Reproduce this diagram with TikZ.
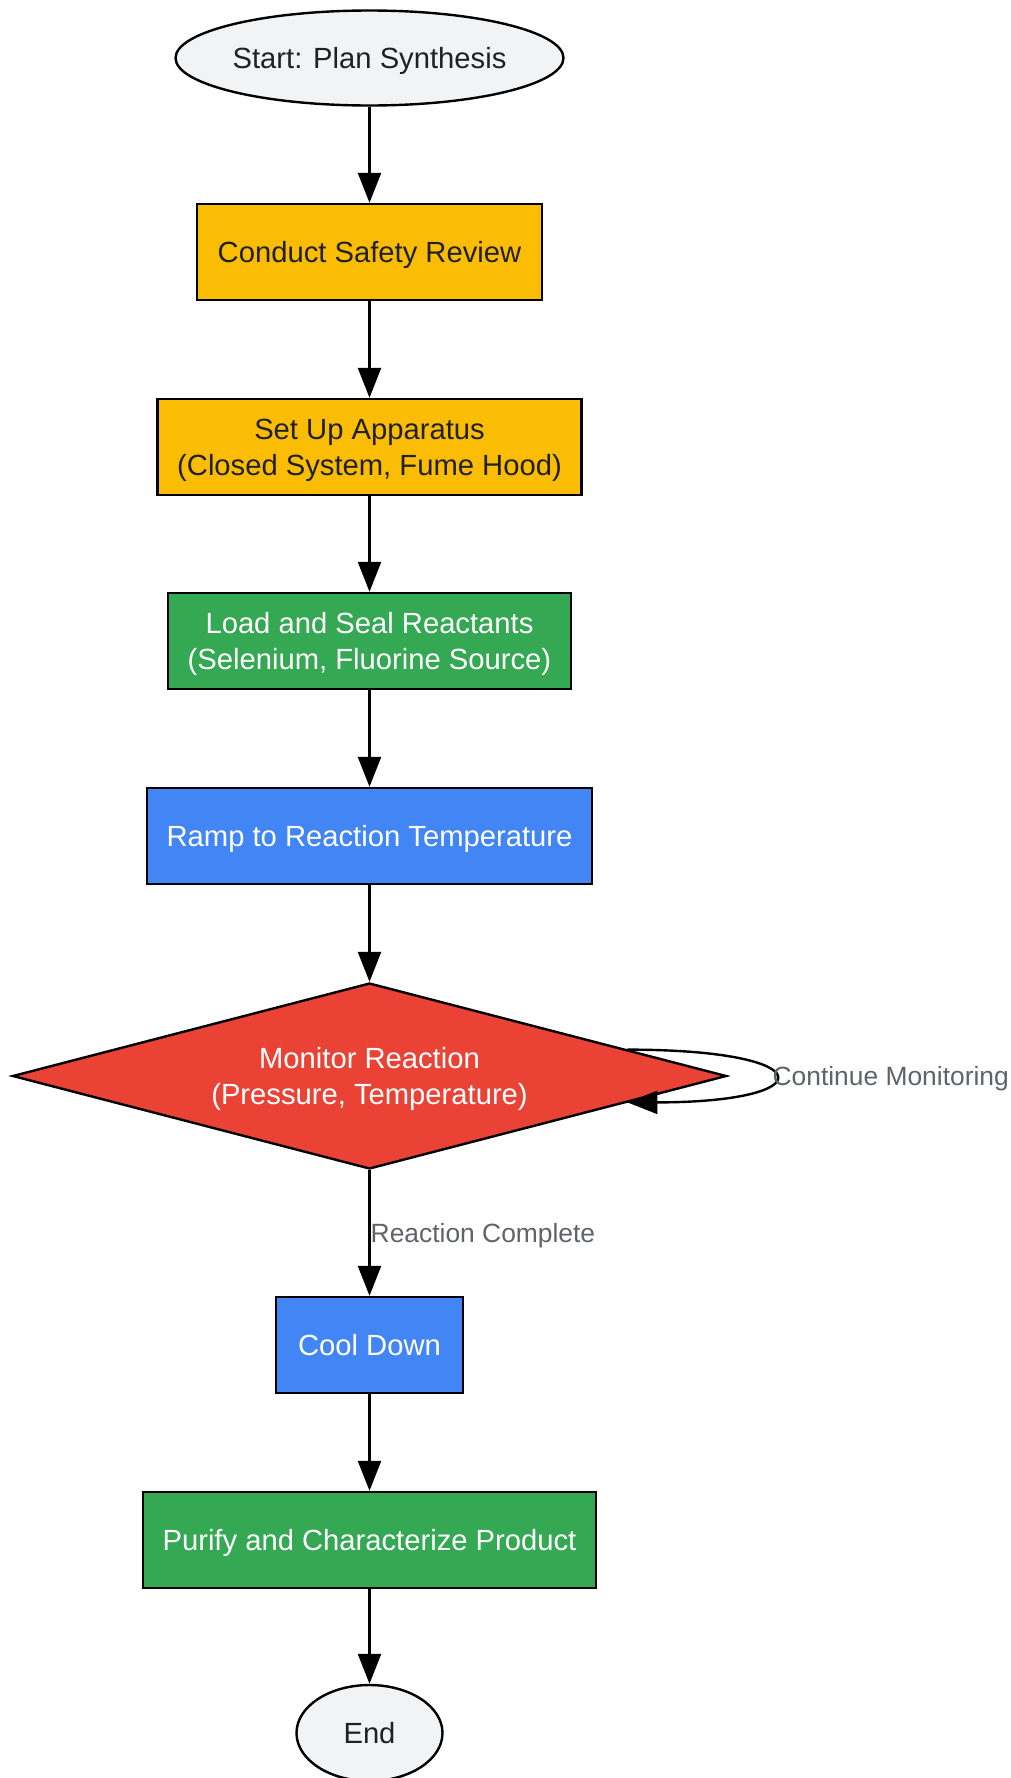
\documentclass[tikz,border=0pt]{standalone}
\usepackage{fontspec}
\setmainfont{Liberation Sans}
\usetikzlibrary{shapes.geometric,arrows.meta,calc}
\definecolor{termfill}{HTML}{F1F3F5}
\definecolor{darktext}{HTML}{202124}
\definecolor{prepfill}{HTML}{FBBC04}
\definecolor{loadfill}{HTML}{34A853}
\definecolor{heatfill}{HTML}{4285F4}
\definecolor{checkfill}{HTML}{EA4335}
\definecolor{labelgray}{HTML}{5F6368}

\begin{document}
\begin{tikzpicture}[x=0.5pt,y=-0.5pt,
		every node/.style={font=\fontsize{14.6}{18}\selectfont,text depth=0pt},
		terminal/.style={ellipse,draw,line width=1.2pt,fill=termfill,text=darktext,inner sep=0pt,minimum height=47.5pt},
		stepbox/.style={rectangle,draw,line width=1.2pt,inner sep=0pt,minimum height=48pt,align=center},
		prep/.style={stepbox,fill=prepfill,text=darktext},
		loadstep/.style={stepbox,fill=loadfill,text=white},
		heat/.style={stepbox,fill=heatfill,text=white},
		check/.style={diamond,draw,line width=1.2pt,fill=checkfill,text=white,inner sep=0pt,aspect=3.84,minimum width=357pt,minimum height=93pt,align=center},
		flow/.style={draw,line width=1.2pt,-{Triangle[length=15pt,width=11.5pt]}},
		edgelabel/.style={font=\fontsize{13.2}{15.8}\selectfont,text=labelgray,inner sep=0pt,anchor=west}
	]
		\useasboundingbox (0,0) rectangle (1011,1778);
		
		%steps
		\node[terminal,minimum width=194pt] (start) at (369.5,58) {Start: Plan Synthesis};
		\node[prep,minimum width=172.5pt] (review) at (369.5,252) {Conduct Safety Review};
		\node[prep,minimum width=212pt] (setup) at (369.5,447) {Set Up Apparatus\\(Closed System, Fume Hood)};
		\node[loadstep,minimum width=201.5pt] (load) at (369.5,641) {Load and Seal Reactants\\(Selenium, Fluorine Source)};
		\node[heat,minimum width=222.5pt] (ramp) at (369.5,836) {Ramp to Reaction Temperature};
		\node[check] (monitor) at (369.5,1076) {Monitor Reaction\\(Pressure, Temperature)};
		\node[heat,minimum width=93.5pt] (cool) at (369.5,1345) {Cool Down};
		\node[loadstep,minimum width=226.5pt] (purify) at (369.5,1540) {Purify and Characterize Product};
		\node[terminal,minimum width=73pt,minimum height=48pt] (stop) at (369.5,1733) {End};
		
		%loop ends on the diamond's right edges
		\coordinate (loopout) at ($(monitor.east)!0.28!(monitor.north)$);
		\coordinate (loopin) at ($(monitor.east)!0.28!(monitor.south)$);
		
		%arrows
		\foreach \a/\b in {start/review, review/setup, setup/load, load/ramp, ramp/monitor, cool/purify, purify/stop}{
			\draw[flow] (\a.south) -- (\b.north);
		}
		\draw[flow] (monitor.south) -- (cool.north)
			node[edgelabel,pos=0.5] {Reaction Complete};
		\draw[flow] (loopout) .. controls +(196,0) and +(196,0) .. (loopin)
			node[edgelabel,pos=0.5,xshift=-1.5pt] {Continue Monitoring};
\end{tikzpicture}
\end{document}
